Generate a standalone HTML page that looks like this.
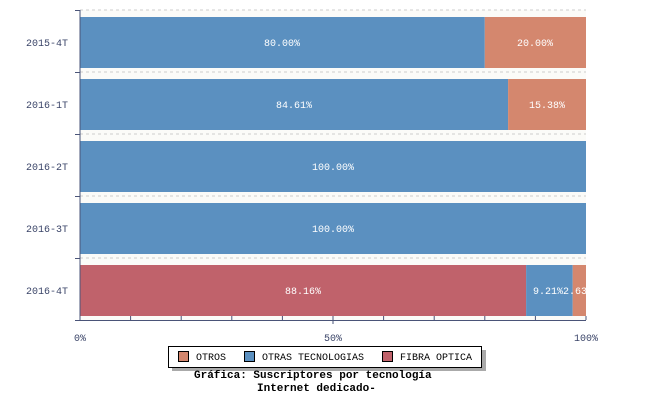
<!DOCTYPE html><html><head><style>body{margin:0;background:#fff}</style></head><body>
<svg width="650" height="400" xmlns="http://www.w3.org/2000/svg" font-family="Liberation Mono, monospace" font-size="10">
<defs><clipPath id="c"><rect x="80" y="0" width="506" height="400"/></clipPath></defs>
<rect x="80" y="10" width="506" height="310" fill="#fbfbf8"/>
<g stroke="#ccc" stroke-dasharray="3,3">
<line x1="80" y1="10" x2="586" y2="10"/><line x1="80" y1="72" x2="586" y2="72"/><line x1="80" y1="134" x2="586" y2="134"/><line x1="80" y1="196" x2="586" y2="196"/><line x1="80" y1="258" x2="586" y2="258"/>
</g>
<rect x="80" y="17" width="404.8" height="51" fill="#5b90c0"/><rect x="484.8" y="17" width="101.2" height="51" fill="#d4876e"/>
<rect x="80" y="79" width="428.1" height="51" fill="#5b90c0"/><rect x="508.1" y="79" width="77.9" height="51" fill="#d4876e"/>
<rect x="80" y="141" width="506" height="51" fill="#5b90c0"/>
<rect x="80" y="203" width="506" height="51" fill="#5b90c0"/>
<rect x="80" y="265" width="446.1" height="51" fill="#c0626b"/><rect x="526.1" y="265" width="46.6" height="51" fill="#5b90c0"/><rect x="572.7" y="265" width="13.3" height="51" fill="#d4876e"/>
<g fill="#fff" text-anchor="middle">
<text x="282" y="46">80.00%</text><text x="535" y="46">20.00%</text>
<text x="294" y="108">84.61%</text><text x="547" y="108">15.38%</text>
<text x="333" y="170">100.00%</text><text x="333" y="232">100.00%</text>
<text x="303" y="294">88.16%</text>
</g>
<g fill="#fff" clip-path="url(#c)"><text x="533" y="294">9.21%</text><text x="563" y="294">2.63</text></g>
<g stroke="#4a5478" fill="none">
<line x1="80" y1="10" x2="80" y2="320"/><line x1="80" y1="320.5" x2="586" y2="320.5"/>
<path d="M75 10.5H80M75 72.5H80M75 134.5H80M75 196.5H80M75 258.5H80M75 320.5H80"/>
<path d="M130.6 316V320M181.2 316V320M231.8 316V320M282.4 316V320M333 316V324M383.6 316V320M434.2 316V320M484.8 316V320M535.4 316V320M586 316V320"/>
</g>
<g fill="#3a4468" text-anchor="end">
<text x="68" y="46">2015-4T</text><text x="68" y="108">2016-1T</text><text x="68" y="170">2016-2T</text><text x="68" y="232">2016-3T</text><text x="68" y="294">2016-4T</text>
</g>
<g fill="#3a4468" text-anchor="middle"><text x="80" y="341">0%</text><text x="333" y="341">50%</text><text x="586" y="341">100%</text></g>
<rect x="172" y="350" width="314" height="21" fill="#aaa"/>
<rect x="168.5" y="346.5" width="313" height="21" fill="#fff" stroke="#000"/>
<rect x="178.5" y="351.5" width="10" height="10" fill="#d4876e" stroke="#000"/><text x="196" y="360">OTROS</text>
<rect x="244.5" y="351.5" width="10" height="10" fill="#5b90c0" stroke="#000"/><text x="262" y="360">OTRAS TECNOLOGIAS</text>
<rect x="382.5" y="351.5" width="10" height="10" fill="#c0626b" stroke="#000"/><text x="400" y="360">FIBRA OPTICA</text>
<g font-weight="bold" font-size="11"><text x="194" y="378">Gráfica: Suscriptores por tecnología</text><text x="257" y="391">Internet dedicado-</text></g>
</svg></body></html>
